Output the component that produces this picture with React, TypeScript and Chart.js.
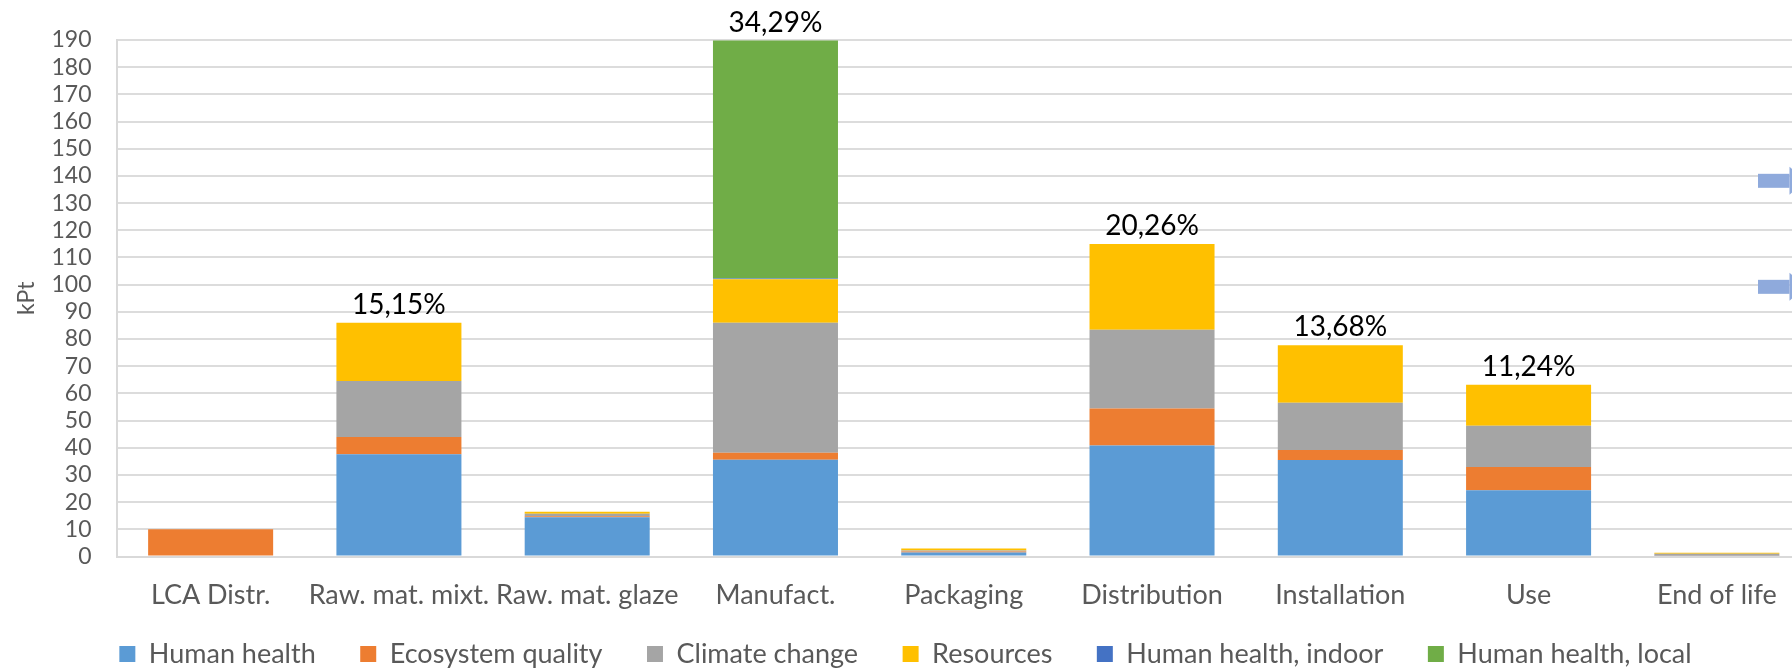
import React, { useEffect, useRef } from 'react';
import { Chart, registerables } from 'chart.js';

Chart.register(...registerables);

const categories = ['LCA Distr.', 'Raw. mat. mixt.', 'Raw. mat. glaze', 'Manufact.', 'Packaging', 'Distribution', 'Installation', 'Use', 'End of life'];
const humanHealth = [0, 37.6, 14.4, 35.6, 1.5, 40.8, 35.5, 24.4, 0.3];
const ecosystemQuality = [10.0, 6.4, 0.4, 2.6, 0.3, 13.6, 3.7, 8.5, 0.1];
const climateChange = [0, 20.6, 0.9, 47.8, 0.4, 29.0, 17.4, 15.2, 0.6];
const resources = [0, 21.4, 0.8, 16.0, 0.7, 31.6, 21.1, 15.1, 0.4];
const humanHealthIndoor = [0, 0, 0, 0.3, 0, 0, 0, 0, 0];
const humanHealthLocal = [0, 0, 0, 87.5, 0, 0, 0, 0, 0];
const shareLabels = ['', '15,15%', '', '34,29%', '', '20,26%', '13,68%', '11,24%', ''];
const seriesNames = ['Human health', 'Ecosystem quality', 'Climate change', 'Resources', 'Human health, indoor', 'Human health, local'];
const seriesColors = ['#5B9BD5', '#ED7D31', '#A5A5A5', '#FFC000', '#4472C4', '#70AD47'];
const yMax = 190;
const yStep = 10;
const arrowLevels = [138.2, 99.2];

const FONT = 'Lato';
const GRAY = '#595959';

const shareLabelPlugin = {
  id: 'shareLabels',
  afterDatasetsDraw(chart: any) {
    const { ctx, scales } = chart;
    const series = [humanHealth, ecosystemQuality, climateChange, resources, humanHealthIndoor, humanHealthLocal];
    ctx.save();
    ctx.font = `28px ${FONT}`;
    ctx.fillStyle = '#000000';
    ctx.textAlign = 'center';
    ctx.textBaseline = 'alphabetic';
    categories.forEach((_, i) => {
      const label = shareLabels[i];
      if (!label) return;
      const total = series.reduce((s, arr) => s + arr[i], 0);
      const x = scales.x.getPixelForValue(i);
      const y = scales.y.getPixelForValue(Math.min(total, yMax));
      ctx.fillText(label, x, y - 9);
    });
    ctx.restore();
  },
};

const arrowPlugin = {
  id: 'sideArrows',
  afterDraw(chart: any) {
    const { ctx, chartArea, scales } = chart;
    ctx.save();
    ctx.fillStyle = '#8FAADC';
    arrowLevels.forEach((v) => {
      const cy = scales.y.getPixelForValue(v);
      const bodyStart = chartArea.right - 53;
      const headStart = chartArea.right - 21.5;
      ctx.fillRect(bodyStart, cy - 7, headStart - bodyStart, 14);
      ctx.beginPath();
      ctx.moveTo(headStart, cy - 14);
      ctx.lineTo(headStart + 16, cy);
      ctx.lineTo(headStart, cy + 14);
      ctx.closePath();
      ctx.fill();
    });
    ctx.restore();
  },
};

// let the category labels draw below the axis box (they overlap the legend band)
const labelRoomPlugin = {
  id: 'labelRoom',
  afterLayout(chart: any) {
    chart.scales.x.bottom = chart.height;
  },
};

export default function App() {
  const canvasRef = useRef<HTMLCanvasElement | null>(null);

  useEffect(() => {
    const canvas = canvasRef.current;
    if (!canvas) return;
    const allSeries = [humanHealth, ecosystemQuality, climateChange, resources, humanHealthIndoor, humanHealthLocal];
    const chart = new Chart(canvas, {
      type: 'bar',
      data: {
        labels: categories,
        datasets: allSeries.map((d, k) => ({
          label: seriesNames[k],
          data: d,
          backgroundColor: seriesColors[k],
          borderWidth: 0,
          barPercentage: 1,
          categoryPercentage: 0.664,
        })),
      },
      options: {
        responsive: false,
        animation: false,
        devicePixelRatio: 1,
        layout: { padding: { top: 40, left: 0, right: 1, bottom: 0 } },
        plugins: {
          legend: {
            position: 'bottom',
            maxHeight: 74,
            labels: {
              boxWidth: 16,
              boxHeight: 16,
              padding: 44.5,
              color: GRAY,
              font: { family: FONT, size: 27 },
            },
          },
          tooltip: { enabled: false },
        },
        scales: {
          x: {
            stacked: true,
            grid: { display: false, drawTicks: false },
            border: { display: true, color: '#D9D9D9', width: 2 },
            ticks: {
              color: GRAY,
              font: { family: FONT, size: 27 },
              maxRotation: 0,
              minRotation: 0,
              autoSkip: false,
              padding: 23,
            },
            afterFit(scale: any) {
              scale.height = 39.5;
            },
          },
          y: {
            stacked: true,
            min: 0,
            max: yMax,
            grid: { color: '#DCDCDC', lineWidth: 2, drawTicks: false },
            border: { display: true, color: '#D9D9D9', width: 2 },
            ticks: {
              stepSize: yStep,
              autoSkip: false,
              color: GRAY,
              font: { family: FONT, size: 23 },
              padding: 25,
            },
            title: {
              display: true,
              text: 'kPt',
              color: GRAY,
              font: { family: FONT, size: 23 },
              padding: { top: 13, bottom: 0 },
            },
            afterFit(scale: any) {
              scale.width = 116.5;
            },
          },
        },
      },
      plugins: [shareLabelPlugin, arrowPlugin, labelRoomPlugin],
    });
    return () => chart.destroy();
  }, []);

  return (
    <div style={{ position: 'absolute', left: 0, top: 0, width: 1792, height: 670, overflow: 'hidden', background: '#ffffff' }}>
      <canvas ref={canvasRef} width={1812} height={670} style={{ width: 1812, height: 670, display: 'block' }} />
    </div>
  );
}
